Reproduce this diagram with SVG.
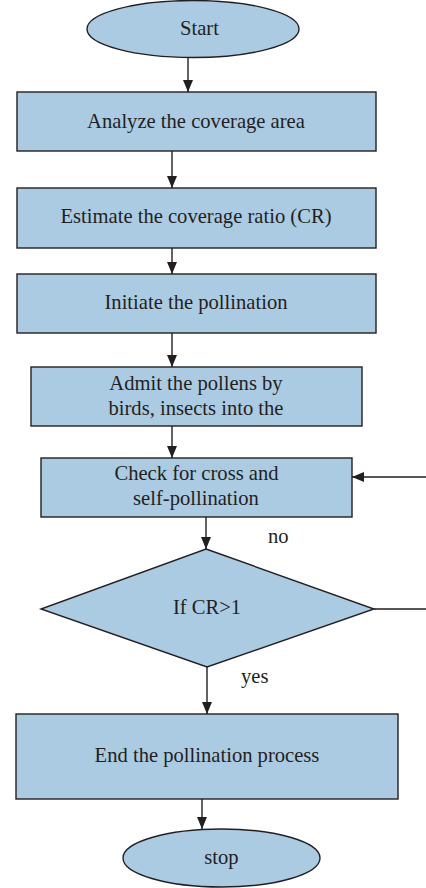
<svg xmlns="http://www.w3.org/2000/svg" width="426" height="888" viewBox="0 0 426 888">
<style>
.n{fill:#abcbe3;stroke:#231f20;stroke-width:1.4}
.t{font-family:"Liberation Serif","Times New Roman",serif;font-size:20.6px;fill:#231f20;text-anchor:middle}
.l{font-family:"Liberation Serif","Times New Roman",serif;font-size:20.6px;fill:#231f20}
.c{fill:none;stroke:#231f20;stroke-width:1.4}
</style>
<defs>
<marker id="a" viewBox="0 0 12 10" refX="12" refY="5" markerWidth="12" markerHeight="10" markerUnits="userSpaceOnUse" orient="auto">
<path d="M0,0 L12,5 L0,10 Z" fill="#231f20"/>
</marker>
</defs>
<rect width="426" height="888" fill="#ffffff"/>
<g id="connectors">
<path class="c" d="M188 58 V92" marker-end="url(#a)"/>
<path class="c" d="M172 151 V188" marker-end="url(#a)"/>
<path class="c" d="M172 248 V274" marker-end="url(#a)"/>
<path class="c" d="M172 333 V367" marker-end="url(#a)"/>
<path class="c" d="M172 426 V458" marker-end="url(#a)"/>
<path class="c" d="M206 517 V549" marker-end="url(#a)"/>
<path class="c" d="M374 609 H428 V477 H352" marker-end="url(#a)"/>
<path class="c" d="M207 667 V714" marker-end="url(#a)"/>
<path class="c" d="M202 799 V829" marker-end="url(#a)"/>
<text class="l" x="268" y="543">no</text>
<text class="l" x="241" y="683">yes</text>
</g>
<g id="start">
<ellipse class="n" cx="193" cy="29" rx="106" ry="28.5"/>
<text class="t" x="199.5" y="35">Start</text>
</g>
<g id="analyze">
<rect class="n" x="17" y="92" width="359" height="59"/>
<text class="t" x="196" y="128">Analyze the coverage area</text>
</g>
<g id="estimate">
<rect class="n" x="17" y="188" width="359" height="60"/>
<text class="t" x="196" y="223">Estimate the coverage ratio (CR)</text>
</g>
<g id="initiate">
<rect class="n" x="17" y="274" width="359" height="59"/>
<text class="t" x="196" y="309">Initiate the pollination</text>
</g>
<g id="admit">
<rect class="n" x="31" y="367" width="331" height="59"/>
<text class="t" x="196" y="390">Admit the pollens by</text>
<text class="t" x="196" y="415">birds, insects into the</text>
</g>
<g id="check">
<rect class="n" x="41" y="458" width="311" height="59"/>
<text class="t" x="196.5" y="480">Check for cross and</text>
<text class="t" x="196" y="505">self-pollination</text>
</g>
<g id="decision">
<polygon class="n" points="206,549 374,609 207,667 41,609"/>
<text class="t" x="207" y="614">If CR&gt;1</text>
</g>
<g id="end">
<rect class="n" x="16" y="714" width="382" height="85"/>
<text class="t" x="207" y="762">End the pollination process</text>
</g>
<g id="stop">
<ellipse class="n" cx="221.5" cy="858" rx="98.5" ry="29"/>
<text class="t" x="221.5" y="864">stop</text>
</g>
</svg>
